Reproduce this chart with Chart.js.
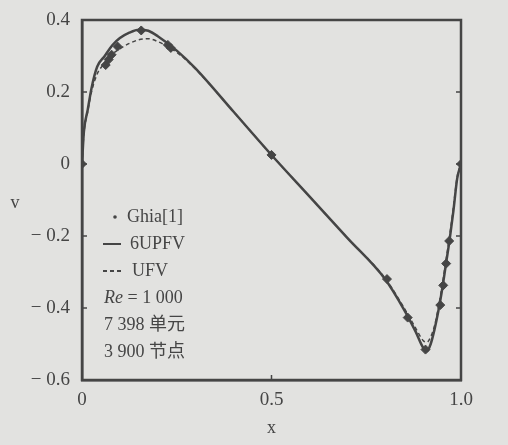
<!DOCTYPE html>
<html>
<head>
<meta charset="utf-8">
<script src="https://cdn.jsdelivr.net/npm/chart.js@4"></script>
<style>
  body { margin: 0; background: #e2e2e0; }
  #wrap { width: 508px; height: 445px; }
</style>
</head>
<body>
<div id="wrap"><canvas id="myChart" width="508" height="445"></canvas></div>
<script>
// Ghia[1] reference points
const ghiaX = [0, 0.0625, 0.0703, 0.0781, 0.0938, 0.1563, 0.2266, 0.2344, 0.5, 0.8047, 0.8594, 0.9063, 0.9453, 0.9531, 0.9609, 0.9688, 1.0];
const ghiaV = [0, 0.27485, 0.29012, 0.30353, 0.32627, 0.37095, 0.33075, 0.32235, 0.02526, -0.31966, -0.42665, -0.5155, -0.39188, -0.33714, -0.27669, -0.21388, 0];

// 6UPFV curve
const upfvX = [0, 0.005, 0.015, 0.025, 0.04, 0.06, 0.08, 0.1, 0.125, 0.15, 0.175, 0.2, 0.25, 0.3, 0.4, 0.5, 0.6, 0.7, 0.8, 0.85, 0.88, 0.9, 0.91, 0.92, 0.93, 0.94, 0.95, 0.96, 0.97, 0.98, 0.99, 1.0];
const upfvV = [0, 0.09, 0.15, 0.21, 0.27, 0.30, 0.33, 0.35, 0.365, 0.373, 0.37, 0.355, 0.315, 0.265, 0.145, 0.025, -0.09, -0.205, -0.32, -0.405, -0.465, -0.51, -0.52, -0.5, -0.46, -0.41, -0.35, -0.28, -0.21, -0.13, -0.04, 0];

// UFV curve
const ufvX = [0, 0.005, 0.015, 0.025, 0.04, 0.06, 0.08, 0.1, 0.125, 0.15, 0.175, 0.2, 0.25, 0.3, 0.4, 0.5, 0.6, 0.7, 0.8, 0.85, 0.88, 0.9, 0.91, 0.92, 0.93, 0.94, 0.95, 0.96, 0.97, 0.98, 0.99, 1.0];
const ufvV = [0, 0.085, 0.145, 0.2, 0.25, 0.28, 0.305, 0.32, 0.335, 0.345, 0.348, 0.34, 0.31, 0.263, 0.145, 0.025, -0.09, -0.205, -0.318, -0.4, -0.455, -0.49, -0.495, -0.48, -0.45, -0.4, -0.34, -0.27, -0.2, -0.12, -0.035, 0];

const xTicks = [0, 0.5, 1.0];
const xTickLabels = ["0", "0.5", "1.0"];
const yTicks = [0.4, 0.2, 0, -0.2, -0.4, -0.6];
const yTickLabels = ["0.4", "0.2", "0", "\u2212 0.2", "\u2212 0.4", "\u2212 0.6"];

const legendLines = ["Ghia[1]", "6UPFV", "UFV", " = 1 000", "7 398 单元", "3 900 节点"];

const ink = "#454545";
const serif = '"Liberation Serif", "Noto Sans CJK SC", serif';

function pts(xs, ys) {
    return xs.map((x, i) => ({ x: x, y: ys[i] }));
}

const extras = {
    id: "extras",
    afterDraw(chart) {
        const ctx = chart.ctx;
        const a = chart.chartArea;
        const xs = chart.scales.x, ys = chart.scales.y;
        ctx.save();
        ctx.strokeStyle = ink;
        ctx.lineWidth = 2.5;
        ctx.strokeRect(a.left, a.top, a.right - a.left, a.bottom - a.top);
        ctx.lineWidth = 1.5;
        yTicks.forEach(v => {
            const py = ys.getPixelForValue(v);
            ctx.beginPath();
            ctx.moveTo(a.left, py); ctx.lineTo(a.left + 5, py);
            ctx.moveTo(a.right, py); ctx.lineTo(a.right - 5, py);
            ctx.stroke();
        });
        xTicks.forEach(v => {
            const px = xs.getPixelForValue(v);
            ctx.beginPath();
            ctx.moveTo(px, a.bottom); ctx.lineTo(px, a.bottom - 5);
            ctx.stroke();
        });

        ctx.fillStyle = ink;
        ctx.textBaseline = "middle";
        ctx.font = "18px " + serif;
        ctx.textAlign = "center";
        ctx.fillText("x", xs.getPixelForValue(0.5), 428);
        ctx.fillText("v", 15, 203);

        ctx.textAlign = "left";
        const rows = [217, 244, 271, 298, 325, 352];
        // legend markers
        ctx.beginPath();
        ctx.arc(115, rows[0], 1.8, 0, Math.PI * 2);
        ctx.fill();
        ctx.lineWidth = 2;
        ctx.beginPath();
        ctx.moveTo(103, rows[1]); ctx.lineTo(121, rows[1]);
        ctx.stroke();
        ctx.setLineDash([4, 3]);
        ctx.beginPath();
        ctx.moveTo(103, rows[2]); ctx.lineTo(121, rows[2]);
        ctx.stroke();
        ctx.setLineDash([]);

        ctx.fillText(legendLines[0], 127, rows[0]);
        ctx.fillText(legendLines[1], 130, rows[1]);
        ctx.fillText(legendLines[2], 132, rows[2]);
        ctx.font = "italic 18px " + serif;
        ctx.fillText("Re", 104, rows[3]);
        const w = ctx.measureText("Re").width;
        ctx.font = "18px " + serif;
        ctx.fillText(legendLines[3], 104 + w, rows[3]);
        ctx.fillText(legendLines[4], 104, rows[4]);
        ctx.fillText(legendLines[5], 104, rows[5]);
        ctx.restore();
    }
};

new Chart("myChart", {
    type: "scatter",
    data: {
        datasets: [{
            label: "Ghia[1]",
            data: pts(ghiaX, ghiaV),
            pointStyle: "rectRot",
            pointRadius: 4.5,
            backgroundColor: ink,
            borderColor: ink,
            showLine: false
        }, {
            label: "6UPFV",
            data: pts(upfvX, upfvV),
            showLine: true,
            pointRadius: 0,
            borderColor: ink,
            borderWidth: 2.5,
            cubicInterpolationMode: "monotone"
        }, {
            label: "UFV",
            data: pts(ufvX, ufvV),
            showLine: true,
            pointRadius: 0,
            borderColor: ink,
            borderWidth: 1.5,
            borderDash: [4, 3],
            cubicInterpolationMode: "monotone"
        }]
    },
    options: {
        responsive: false,
        animation: false,
        layout: { padding: { left: 0, top: 20, right: 47, bottom: 0 } },
        plugins: {
            legend: { display: false },
            tooltip: { enabled: false }
        },
        scales: {
            x: {
                type: "linear",
                min: 0,
                max: 1,
                afterBuildTicks: s => { s.ticks = xTicks.map(v => ({ value: v })); },
                afterFit: s => { s.height = 65; },
                grid: { display: false },
                border: { color: ink, width: 2.5 },
                ticks: {
                    color: ink,
                    font: { family: serif, size: 19 },
                    padding: 1,
                    callback: v => xTickLabels[xTicks.indexOf(v)]
                }
            },
            y: {
                min: -0.6,
                max: 0.4,
                afterBuildTicks: s => { s.ticks = yTicks.map(v => ({ value: v })); },
                afterFit: s => { s.width = 82; },
                grid: { display: false },
                border: { color: ink, width: 2.5 },
                ticks: {
                    color: ink,
                    font: { family: serif, size: 19 },
                    padding: 4,
                    callback: v => yTickLabels[yTicks.indexOf(v)]
                }
            }
        }
    },
    plugins: [extras]
});
</script>
</body>
</html>
